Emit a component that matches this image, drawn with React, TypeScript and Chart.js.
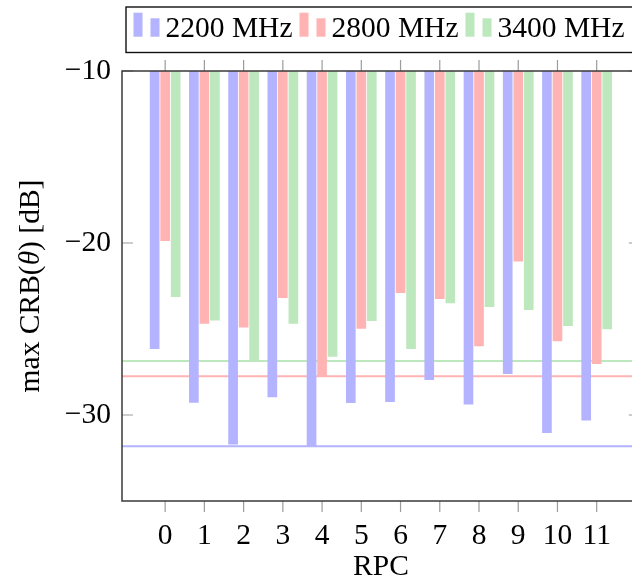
import React, { useEffect, useRef } from "react";
import { Chart, registerables } from "chart.js";

Chart.register(...registerables);

const categories = ["0", "1", "2", "3", "4", "5", "6", "7", "8", "9", "10", "11"];
const seriesLabels = ["2200 MHz", "2800 MHz", "3400 MHz"];
const values2200 = [-26.14, -29.27, -31.7, -28.95, -31.81, -29.29, -29.23, -27.95, -29.37, -27.6, -31.03, -30.3];
const values2800 = [-19.87, -24.67, -24.9, -23.18, -27.75, -24.97, -22.89, -23.24, -25.98, -21.05, -25.7, -27.02];
const values3400 = [-23.12, -24.48, -26.86, -24.67, -26.6, -24.52, -26.14, -23.49, -23.7, -23.87, -24.81, -25.0];
const yTickValues = [-10, -20, -30];
const barBase = -10;

const Y_MIN = -35;
const Y_MAX = -10;
const X_MIN = -1.1;
const X_VISIBLE_MAX = 11.9;
const X_AXIS_END = 12.1;

const COLORS = ["#b3b3ff", "#ffb3b3", "#bde7bd"];
const GROUP_OFFSETS = [-0.268, 0, 0.268];
const FONT = "'Liberation Serif', 'Times New Roman', serif";
const FS = 29.5;

const allSeries = [values2200, values2800, values3400];

function fmt(v: number) {
  return String(v).replace("-", "\u2212");
}

const decorPlugin = {
  id: "decor",
  afterDraw(chart: any) {
    const ctx = chart.ctx as CanvasRenderingContext2D;
    const ca = chart.chartArea;
    const xs = chart.scales.x;
    const ys = chart.scales.y;
    const xRight = xs.getPixelForValue(X_AXIS_END);
    ctx.save();
    // tick marks
    ctx.strokeStyle = "#9c9c9c";
    ctx.lineWidth = 1.2;
    ctx.beginPath();
    categories.forEach((_, i) => {
      const px = xs.getPixelForValue(i);
      ctx.moveTo(px, ca.top);
      ctx.lineTo(px, ca.top - 11);
      ctx.moveTo(px, ca.bottom);
      ctx.lineTo(px, ca.bottom + 11);
    });
    yTickValues.forEach((v) => {
      const py = ys.getPixelForValue(v);
      ctx.moveTo(ca.left, py);
      ctx.lineTo(ca.left + 11, py);
      ctx.moveTo(xRight, py);
      ctx.lineTo(xRight - 11, py);
    });
    ctx.stroke();
    // frame
    ctx.strokeStyle = "#3a3a3a";
    ctx.lineWidth = 1.5;
    ctx.beginPath();
    ctx.moveTo(xRight, ca.top);
    ctx.lineTo(ca.left, ca.top);
    ctx.lineTo(ca.left, ca.bottom);
    ctx.lineTo(xRight, ca.bottom);
    ctx.lineTo(xRight, ca.top);
    ctx.stroke();

    // legend
    const boxL = ca.left + 4;
    const boxT = 7;
    const boxB = 52.5;
    ctx.strokeStyle = "#111";
    ctx.lineWidth = 1.4;
    ctx.strokeRect(boxL, boxT, 640 - boxL + 10, boxB - boxT);
    ctx.font = `${FS}px ${FONT}`;
    ctx.textBaseline = "alphabetic";
    ctx.textAlign = "left";
    let x = boxL + 7.5;
    const base = 36.7;
    seriesLabels.forEach((lab, i) => {
      ctx.fillStyle = COLORS[i];
      ctx.fillRect(x, 12.7, 9, base - 12.7);
      ctx.fillRect(x + 17, 18.3, 9, base - 18.3);
      ctx.fillStyle = "#000";
      const tx = x + 32;
      ctx.fillText(lab, tx, base);
      x = tx + ctx.measureText(lab).width + 7;
    });

    // axis titles
    ctx.fillStyle = "#000";
    ctx.font = `${FS}px ${FONT}`;
    ctx.textAlign = "center";
    ctx.textBaseline = "alphabetic";
    ctx.fillText("RPC", (ca.left + xRight) / 2, 575);

    ctx.translate(39, (ca.top + ca.bottom) / 2);
    ctx.rotate(-Math.PI / 2);
    const parts: [string, string][] = [
      ["max CRB(", "normal"],
      ["\u03b8", "italic"],
      [") [dB]", "normal"],
    ];
    let total = 0;
    const widths = parts.map(([t, st]) => {
      ctx.font = `${st} ${FS}px ${FONT}`;
      const w = ctx.measureText(t).width;
      total += w;
      return w;
    });
    ctx.textAlign = "left";
    let cx = -total / 2;
    parts.forEach(([t, st], i) => {
      ctx.font = `${st} ${FS}px ${FONT}`;
      ctx.fillText(t, cx, 0);
      cx += widths[i];
    });
    ctx.restore();
  },
};

export default function App() {
  const ref = useRef<HTMLCanvasElement | null>(null);
  useEffect(() => {
    if (!ref.current) return;
    const barSets = allSeries.map((vals, s) => ({
      type: "bar" as const,
      label: seriesLabels[s],
      data: vals.map((v, i) => ({ x: i + GROUP_OFFSETS[s], y: [barBase, v] })),
      backgroundColor: COLORS[s],
      borderWidth: 0,
      barThickness: 9,
      grouped: false,
      order: 0,
    }));
    const lineSets = allSeries.map((vals, s) => {
      const m = Math.min(...vals);
      return {
        type: "line" as const,
        label: seriesLabels[s] + " min",
        data: [
          { x: X_MIN, y: m },
          { x: X_AXIS_END, y: m },
        ],
        borderColor: COLORS[s],
        borderWidth: 2,
        pointRadius: 0,
        fill: false,
        order: 1,
      };
    });
    const chart = new Chart(ref.current, {
      type: "bar",
      data: { datasets: [...lineSets, ...barSets] as any },
      options: {
        animation: false,
        responsive: false,
        devicePixelRatio: 1,
        layout: { padding: { top: 71, left: 0, right: 0, bottom: 0 } },
        plugins: { legend: { display: false }, tooltip: { enabled: false } },
        scales: {
          x: {
            type: "linear",
            min: X_MIN,
            max: X_VISIBLE_MAX,
            offset: false,
            grid: { display: false, drawTicks: false },
            border: { display: false },
            afterBuildTicks: (scale: any) => {
              scale.ticks = categories.map((_, i) => ({ value: i }));
            },
            afterFit: (scale: any) => {
              scale.height = 77;
            },
            ticks: {
              autoSkip: false,
              maxRotation: 0,
              padding: 18,
              color: "#000",
              font: { family: FONT, size: FS },
              callback: (v: any) => categories[Number(v)] ?? "",
            },
          },
          y: {
            type: "linear",
            min: Y_MIN,
            max: Y_MAX,
            grid: { display: false, drawTicks: false },
            border: { display: false },
            afterBuildTicks: (scale: any) => {
              scale.ticks = yTickValues.map((v) => ({ value: v }));
            },
            afterFit: (scale: any) => {
              scale.width = 122;
            },
            ticks: {
              padding: 11,
              color: "#000",
              font: { family: FONT, size: FS },
              callback: (v: any) => fmt(Number(v)),
            },
          },
        },
      },
      plugins: [decorPlugin],
    } as any);
    return () => chart.destroy();
  }, []);
  return (
    <div style={{ position: "fixed", left: 0, top: 0, width: 632, height: 578, background: "#fff" }}>
      <canvas ref={ref} width={632} height={578} style={{ display: "block", width: 632, height: 578 }} />
    </div>
  );
}
